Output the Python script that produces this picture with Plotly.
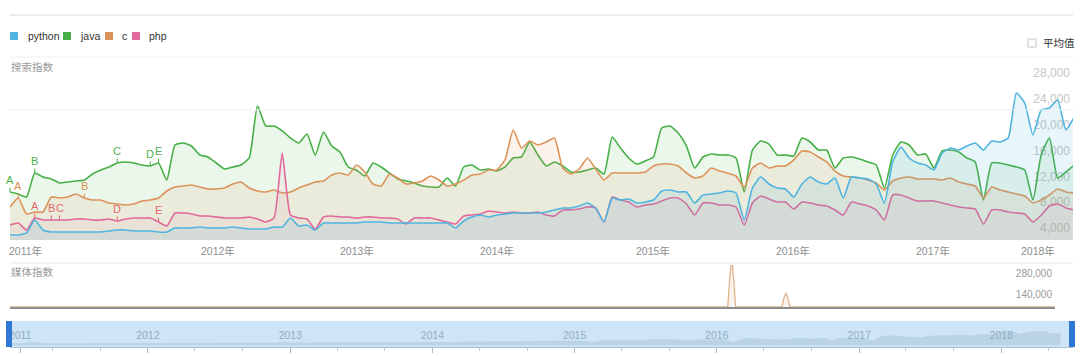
import pandas as pd
import plotly.graph_objects as go

# ---------------- data ----------------
series_names = ["python", "java", "c", "php"]
dates = pd.date_range("2011-01-01", periods=130, freq="21D")

java = [9570, 9260, 8800, 12510, 11890, 11590, 10970, 11120, 11280, 11430,
        12360, 12980, 13440, 14060, 14220, 14060, 13750, 13600, 14060, 11430,
        16850, 17160, 16690, 15300, 14990, 14060, 13130, 13440, 13750, 14840,
        22890, 19790, 19790, 19020, 17930, 17160, 18550, 15300, 18860, 16690,
        15760, 13440, 12980, 12050, 14060, 13440, 12510, 11590, 11280, 10970,
        10500, 10350, 10350, 11740, 10500, 13440, 13750, 12980, 13130, 12820,
        13440, 14840, 14990, 17310, 15300, 13600, 14220, 13600, 12670, 12670,
        12980, 13290, 12360, 18090, 16380, 14840, 13910, 14370, 14990, 19480,
        19790, 18710, 16690, 13290, 14990, 15460, 15300, 15300, 14840, 9570,
        16070, 17470, 17000, 15300, 15300, 15150, 17930, 17310, 16070, 16070,
        13290, 14840, 14990, 14680, 14220, 13750, 10190, 15300, 17310, 16850,
        15300, 15460, 13290, 15920, 16070, 15760, 14840, 14220, 8330, 14060,
        14060, 13750, 13440, 12980, 8330, 15300, 17930, 11740, 12670, 13750]

c_lang = [7250, 8640, 6170, 6480, 6480, 8800, 8640, 8800, 9260, 8640,
          8330, 8330, 7870, 7720, 7560, 7720, 8180, 8330, 8640, 9730,
          10350, 10500, 10660, 10350, 10040, 10040, 10190, 10810, 11120, 10190,
          9730, 9570, 9880, 9420, 9570, 10190, 10660, 11120, 11280, 12200,
          12510, 12200, 13750, 12670, 10810, 10500, 12360, 11740, 10810, 10970,
          11280, 12050, 11430, 10500, 10810, 11430, 12200, 12360, 12980, 12980,
          14530, 19170, 16380, 17470, 16850, 17310, 17930, 13290, 12360, 13130,
          14840, 13130, 11430, 12510, 12510, 12510, 12510, 12670, 13600, 13910,
          13910, 13600, 12510, 11740, 12050, 13290, 12820, 12510, 12050, 10350,
          13290, 14060, 13290, 13600, 13600, 14530, 15920, 15760, 14990, 14220,
          12820, 12050, 11890, 11740, 11430, 10970, 9880, 11280, 11740, 11890,
          11590, 11590, 11590, 11430, 11740, 11120, 10810, 10500, 8640, 10350,
          9880, 9570, 9260, 8950, 7870, 8330, 9110, 10040, 9570, 9420]

php = [4460, 4770, 3690, 5550, 5240, 5240, 5240, 5240, 5390, 5390,
       5240, 5240, 5390, 5080, 5390, 5550, 5550, 5550, 4930, 4310,
       6320, 6320, 6170, 5860, 5860, 5700, 5550, 5550, 5550, 5700,
       5390, 4930, 5550, 15610, 6010, 5550, 5390, 3850, 5700, 5860,
       5700, 5700, 5550, 5700, 5700, 5550, 5550, 5390, 4620, 5550,
       5550, 5550, 5240, 4930, 4620, 5860, 6010, 6170, 6630, 6480,
       6320, 6480, 6320, 6320, 6480, 6010, 5860, 6790, 6790, 6940,
       7250, 7100, 4930, 8800, 8330, 8020, 7250, 7560, 7720, 8180,
       8640, 8640, 7720, 6010, 7870, 7870, 7560, 7560, 7250, 4460,
       7870, 8950, 8490, 8020, 8020, 6940, 8020, 7870, 7560, 7410,
       6790, 6010, 8020, 7720, 7410, 6790, 5240, 9110, 9110, 8640,
       8180, 8180, 8180, 7870, 7560, 7250, 7100, 6940, 4620, 6790,
       6790, 6480, 6320, 6170, 4930, 6010, 7410, 7720, 7100, 6790]

python = [2920, 2920, 3230, 5240, 3690, 3380, 3380, 3380, 3380, 3380,
          3380, 3380, 3540, 3690, 3690, 3540, 3540, 3540, 3380, 3380,
          4000, 4000, 4000, 4150, 4000, 4000, 4000, 4150, 4000, 3850,
          3850, 3850, 4150, 4150, 5550, 4310, 4460, 3690, 4770, 4770,
          4770, 4770, 4770, 4930, 4930, 4930, 4770, 4770, 4770, 4770,
          4770, 4770, 4770, 4770, 4000, 5080, 5700, 6010, 5700, 6010,
          6170, 6320, 6320, 6320, 6320, 6480, 6790, 7100, 7100, 7410,
          7870, 7100, 4930, 8640, 8330, 8490, 7870, 8020, 8330, 9730,
          9880, 9570, 9570, 7870, 9110, 9260, 9420, 9730, 9420, 5240,
          10190, 11890, 10810, 10190, 10040, 8800, 10810, 11890, 11120, 10810,
          11740, 8640, 11890, 11740, 11590, 10810, 7870, 14220, 16540, 14840,
          14060, 13750, 12980, 15610, 16380, 16070, 16690, 17160, 16070, 17470,
          17310, 17930, 24900, 23350, 18400, 22270, 22580, 23810, 19170, 21180]

# media index (c), sparse points around the two spikes
media_dates = ["2011-01-01", "2016-01-02", "2016-01-07", "2016-01-12", "2016-01-17",
               "2016-01-22", "2016-05-19", "2016-05-24", "2016-05-29", "2016-06-03",
               "2016-06-08", "2018-05-30"]
media_c = [0, 0, 190000, 330000, 190000, 0, 0, 60000, 93000, 60000, 0, 0]

# event markers: (letter, index into dates)
java_events = [("A", 0), ("B", 3), ("C", 13), ("D", 17), ("E", 18)]
c_events = [("A", 1), ("B", 9)]
php_events = [("A", 3), ("B", 5), ("C", 6), ("D", 13), ("E", 18)]

main_tick_dates = ["2011-02-10", "2012-06-13", "2013-06-02", "2014-05-25",
                   "2015-06-26", "2016-06-16", "2017-06-07", "2018-03-02"]
main_tick_text = ["2011年", "2012年", "2013年", "2014年", "2015年", "2016年", "2017年", "2018年"]
search_ticks = [4000, 8000, 12000, 16000, 20000, 24000, 28000]
media_ticks = [140000, 280000]
nav_tick_dates = ["2011-02-07", "2012-01-01", "2013-01-01", "2014-01-01",
                  "2015-01-01", "2016-01-01", "2017-01-01", "2018-01-01"]
nav_tick_text = ["2011", "2012", "2013", "2014", "2015", "2016", "2017", "2018"]

# ---------------- styling ----------------
W, H = 1080, 356
FONT = "Liberation Sans, Arial, Noto Sans CJK SC, sans-serif"
colors = {"python": "#4fb5e0", "java": "#46b046", "c": "#dc9359", "php": "#e2689a"}
fills = {"python": "rgba(79,181,224,0.13)", "java": "rgba(70,176,70,0.10)",
         "c": "rgba(220,147,89,0.12)", "php": "rgba(226,104,154,0.07)"}
letter_colors = {"java": "#4daf4d", "c": "#d99050", "php": "#e46a6a"}


def fx(px):
    return px / W


def fy(py):
    return 1 - py / H


fig = go.Figure()

series = {"java": java, "c": c_lang, "php": php, "python": python}
for name in ["java", "c", "php", "python"]:
    fig.add_trace(go.Scatter(
        x=dates, y=series[name], mode="lines", name=name,
        line=dict(color=colors[name], width=1.6, shape="spline", smoothing=0.5),
        fill="tozeroy", fillcolor=fills[name], showlegend=False,
        xaxis="x", yaxis="y", hoverinfo="skip"))

fig.add_trace(go.Scatter(
    x=media_dates, y=media_c, mode="lines", name="c 媒体指数",
    line=dict(color="#e3b48c", width=1.3), fill="tozeroy",
    fillcolor="rgba(227,180,140,0.15)", showlegend=False,
    xaxis="x2", yaxis="y2", hoverinfo="skip"))

fig.add_trace(go.Scatter(
    x=dates, y=python, mode="lines", line=dict(width=0, color="rgba(0,0,0,0)"),
    fill="tozeroy", fillcolor="rgba(110,145,170,0.20)", showlegend=False,
    xaxis="x3", yaxis="y3", hoverinfo="skip"))

annotations = []
for sname, events, vals in [("java", java_events, java), ("c", c_events, c_lang),
                            ("php", php_events, php)]:
    col = letter_colors[sname]
    for letter, idx in events:
        annotations.append(dict(
            x=dates[idx], y=vals[idx], xref="x", yref="y", text=letter,
            showarrow=True, arrowhead=0, arrowwidth=1, arrowcolor=col,
            ax=0, ay=-12, standoff=0,
            font=dict(family=FONT, size=11, color=col)))

# main x-axis year labels as text placed on the date axis
for d, t in zip(main_tick_dates, main_tick_text):
    annotations.append(dict(x=d, y=fy(251), xref="x", yref="paper", text=t,
                            showarrow=False, xanchor="center", yanchor="middle",
                            font=dict(family=FONT, size=10.5, color="#8e8e8e")))

# legend (manual, square swatches)
legend_pos = [(10, 26), (63, 78), (105, 120), (132, 147)]
shapes = []
for name, (sx, tx) in zip(series_names, legend_pos):
    shapes.append(dict(type="rect", xref="paper", yref="paper",
                       x0=fx(sx), x1=fx(sx + 8), y0=fy(40), y1=fy(32),
                       fillcolor=colors[name], line=dict(width=0)))
    annotations.append(dict(x=fx(tx), y=fy(36.5), xref="paper", yref="paper",
                            text=name, showarrow=False, xanchor="left", yanchor="middle",
                            font=dict(family=FONT, size=10.5, color="#333333")))

annotations += [
    dict(x=fx(1041), y=fy(43), xref="paper", yref="paper", text="平均值", showarrow=False,
         xanchor="left", yanchor="middle", font=dict(family=FONT, size=10.5, color="#333333")),
    dict(x=fx(9), y=fy(67), xref="paper", yref="paper", text="搜索指数", showarrow=False,
         xanchor="left", yanchor="middle", font=dict(family=FONT, size=10.5, color="#9a9a9a")),
    dict(x=fx(9), y=fy(272), xref="paper", yref="paper", text="媒体指数", showarrow=False,
         xanchor="left", yanchor="middle", font=dict(family=FONT, size=10.5, color="#9a9a9a")),
]

shapes += [
    # checkbox
    dict(type="rect", xref="paper", yref="paper", x0=fx(1028), x1=fx(1036),
         y0=fy(47), y1=fy(39), line=dict(color="#c4c4c4", width=1), fillcolor="white"),
    # top separator
    dict(type="line", xref="paper", yref="paper", x0=fx(10), x1=fx(1073),
         y0=fy(15), y1=fy(15), line=dict(color="#e6e6e6", width=1.5)),
    # main faint horizontal grid
    dict(type="line", xref="paper", yref="paper", x0=fx(10), x1=fx(1073),
         y0=fy(57), y1=fy(57), line=dict(color="#f0f0f0", width=1)),
    dict(type="line", xref="paper", yref="paper", x0=fx(10), x1=fx(1073),
         y0=fy(110), y1=fy(110), line=dict(color="#f0f0f0", width=1)),
    # separator between main and media
    dict(type="line", xref="paper", yref="paper", x0=fx(10), x1=fx(1073),
         y0=fy(263), y1=fy(263), line=dict(color="#e8e8e8", width=1.2)),
    # navigator band
    dict(type="rect", xref="paper", yref="paper", x0=fx(8), x1=fx(1075),
         y0=fy(347), y1=fy(321), fillcolor="#cde5f6", line=dict(width=0), layer="below"),
    # navigator handles
    dict(type="rect", xref="paper", yref="paper", x0=fx(6), x1=fx(12),
         y0=fy(347), y1=fy(321), fillcolor="#2f78d6", line=dict(width=0)),
    dict(type="rect", xref="paper", yref="paper", x0=fx(1069), x1=fx(1075),
         y0=fy(347), y1=fy(321), fillcolor="#2f78d6", line=dict(width=0)),
]

fig.update_layout(
    width=W, height=H, margin=dict(l=0, r=0, t=0, b=0, pad=0, autoexpand=False),
    paper_bgcolor="white", plot_bgcolor="rgba(0,0,0,0)",
    font=dict(family=FONT, size=11, color="#999999"),
    showlegend=False, hovermode=False,
    xaxis=dict(domain=[fx(10), fx(1073)], range=["2011-01-01", "2018-05-30"],
               anchor="y", showticklabels=False, ticks="", showgrid=False,
               zeroline=False, showline=False, automargin=False,
               minor=dict(dtick="M12", tick0="2011-01-01", showgrid=True,
                          gridcolor="#f1f1f1", gridwidth=1, ticks="")),
    yaxis=dict(domain=[fy(240), fy(57)], range=[2142, 30470], anchor="x", side="right",
               ticklabelposition="inside", tickmode="array", tickvals=search_ticks,
               tickformat=",", showgrid=False, zeroline=False, ticks="",
               layer="below traces", ticklabeloverflow="allow", automargin=False,
               tickfont=dict(family=FONT, size=12, color="#c6c6c6")),
    xaxis2=dict(domain=[fx(10), fx(1055)], range=["2011-01-01", "2018-04-14"], anchor="y2",
                showticklabels=False, ticks="", showgrid=False, zeroline=False,
                showline=True, linecolor="#8d8d8d", linewidth=2, layer="above traces",
                automargin=False),
    yaxis2=dict(domain=[fy(307), fy(265)], range=[0, 280000], anchor="x2", side="right",
                ticklabelposition="inside", tickmode="array", tickvals=media_ticks,
                tickformat=",", showgrid=False, zeroline=False, ticks="",
                ticklabelshift=8, ticklabeloverflow="allow", automargin=False,
                tickfont=dict(family=FONT, size=10, color="#9a9a9a")),
    xaxis3=dict(domain=[fx(10), fx(1073)], range=["2011-01-12", "2018-07-04"], anchor="y3",
                tickmode="array", tickvals=nav_tick_dates, ticktext=nav_tick_text,
                ticklabelposition="inside", ticks="outside", ticklen=5, tickcolor="#a9bccb",
                ticklabeloverflow="allow", ticklabelstandoff=5, automargin=False,
                showgrid=False, zeroline=False, showline=True, linecolor="#a9c3d6",
                tickfont=dict(family=FONT, size=10.5, color="#93adc2"),
                minor=dict(dtick="M4", tick0="2011-01-01", ticks="outside", ticklen=3,
                           tickcolor="#b3c6d4")),
    yaxis3=dict(domain=[fy(347), fy(321)], range=[-3000, 40000], anchor="x3",
                visible=False),
    shapes=shapes, annotations=annotations,
)

fig.write_html("out.html", config={"displayModeBar": False},
               post_script="document.body.style.margin='0px';document.body.style.overflow='hidden';")
